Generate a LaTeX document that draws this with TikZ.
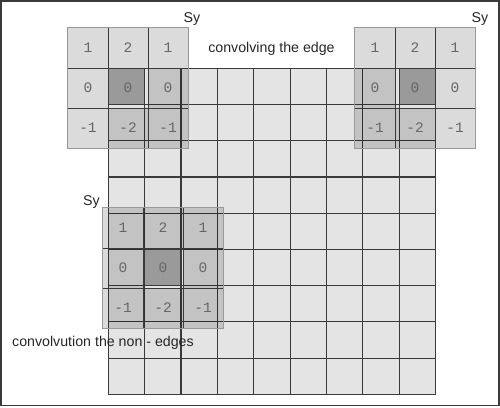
\documentclass[tikz,border=0pt]{standalone}
\usepackage{fontspec}
\setmainfont{Liberation Sans}
\newfontfamily\kernelfont{Liberation Mono}
\definecolor{cellgray}{HTML}{E4E4E4}
\definecolor{linegray}{HTML}{3A3A3A}
\definecolor{digitgray}{HTML}{666666}
\definecolor{pixgray}{HTML}{9A9A9A}
\tikzset{
  gridline/.style={draw=linegray, line width=1.1pt},
  kcell/.style={shape=rectangle, minimum size=40pt, inner sep=0pt, fill=black, fill opacity=0.14, text opacity=1, font=\kernelfont\fontsize{14.5}{14.5}\selectfont, text=digitgray},
  kcentre/.style={kcell, fill=none},
  kline/.style={draw=linegray, line width=1.1pt},
  kborder/.style={draw=black!40, line width=0.8pt},
  caption/.style={font=\fontsize{14.2}{17}\selectfont, text=black!85, inner sep=0pt}
}
\begin{document}
\begin{tikzpicture}[x=1pt, y=-1pt]
\useasboundingbox (0,0) rectangle (500,407);
\draw[draw=linegray, line width=1.5pt] (0.75,0.75) rectangle (499,405.5);
% image grid
\fill[cellgray] (108.3,68.3) rectangle (435.6,394.3);
\fill[pixgray] (108.3,68.3) rectangle (144.7,104.5);
\fill[pixgray] (399.2,68.3) rectangle (435.6,104.5);
\fill[pixgray] (144.7,249.4) rectangle (181.1,285.6);
\foreach \i in {0,...,9} {
  \draw[gridline] ({108.3+\i*36.37},68.3) -- ({108.3+\i*36.37},394.3);
  \draw[gridline] (108.3,{68.3+\i*36.22}) -- (435.6,{68.3+\i*36.22});
}
% kernel at the top left corner
\node[kcell] (tl11) at (88,48) {1};
\node[kcell] (tl12) at (128,48) {2};
\node[kcell] (tl13) at (168,48) {1};
\node[kcell] (tl21) at (88,88) {0};
\node[kcentre] (tl22) at (128,88) {0};
\node[kcell] (tl23) at (168,88) {0};
\node[kcell] (tl31) at (88,128) {-1};
\node[kcell] (tl32) at (128,128) {-2};
\node[kcell] (tl33) at (168,128) {-1};
\draw[kline] (tl11.north east) -- (tl31.south east);
\draw[kline] (tl12.north east) -- (tl32.south east);
\draw[kline] (tl11.south west) -- (tl13.south east);
\draw[kline] (tl21.south west) -- (tl23.south east);
\draw[kborder] (tl11.north west) rectangle (tl33.south east);
% kernel at the top right corner
\node[kcell] (tr11) at (375,48) {1};
\node[kcell] (tr12) at (415,48) {2};
\node[kcell] (tr13) at (455,48) {1};
\node[kcell] (tr21) at (375,88) {0};
\node[kcentre] (tr22) at (415,88) {0};
\node[kcell] (tr23) at (455,88) {0};
\node[kcell] (tr31) at (375,128) {-1};
\node[kcell] (tr32) at (415,128) {-2};
\node[kcell] (tr33) at (455,128) {-1};
\draw[kline] (tr11.north east) -- (tr31.south east);
\draw[kline] (tr12.north east) -- (tr32.south east);
\draw[kline] (tr11.south west) -- (tr13.south east);
\draw[kline] (tr21.south west) -- (tr23.south east);
\draw[kborder] (tr11.north west) rectangle (tr33.south east);
% kernel inside the image
\node[kcell] (in11) at (123,228) {1};
\node[kcell] (in12) at (163,228) {2};
\node[kcell] (in13) at (203,228) {1};
\node[kcell] (in21) at (123,268) {0};
\node[kcentre] (in22) at (163,268) {0};
\node[kcell] (in23) at (203,268) {0};
\node[kcell] (in31) at (123,308) {-1};
\node[kcell] (in32) at (163,308) {-2};
\node[kcell] (in33) at (203,308) {-1};
\draw[kline] (in11.north east) -- (in31.south east);
\draw[kline] (in12.north east) -- (in32.south east);
\draw[kline] (in11.south west) -- (in13.south east);
\draw[kline] (in21.south west) -- (in23.south east);
\draw[kborder] (in11.north west) rectangle (in33.south east);
% labels
\node[caption, anchor=base] (sytl) at (192,22) {Sy};
\node[caption, anchor=base] (sytr) at (480,22) {Sy};
\node[caption, anchor=base] (syin) at (91.5,205) {Sy};
\node[caption, anchor=base] (edge) at (271.5,52) {convolving the edge};
\node[caption, anchor=base west] (nonedge) at (12,346) {convolvution the non - edges};
\end{tikzpicture}
\end{document}
